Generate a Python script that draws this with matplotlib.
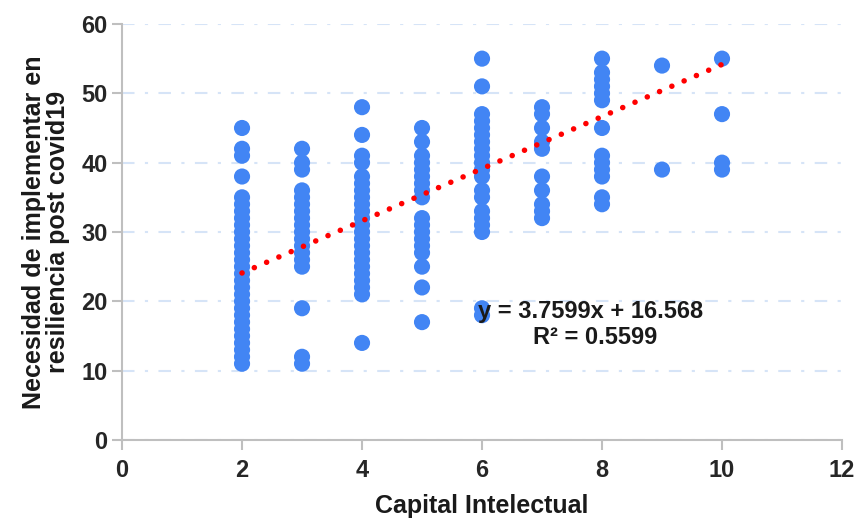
import numpy as np
import matplotlib.pyplot as plt

plt.rcParams['font.family'] = ['Liberation Sans', 'DejaVu Sans']

# Capital Intelectual score -> observed scores for each group
x2 = [45, 42, 41, 38] + list(range(35, 10, -1))
x3 = [42, 40, 39, 36, 35, 34, 33, 32, 31, 30, 29, 28, 27, 26, 25, 19, 12, 11]
x4 = [48, 44, 41, 40] + list(range(38, 20, -1)) + [14]
x5 = [45, 43, 41, 40, 39, 38, 37, 36, 35, 32, 31, 30, 29, 28, 27, 25, 22, 17]
x6 = [55, 51, 47, 46, 45, 44, 43, 42, 41, 40, 39, 38, 36, 35, 33, 32, 31, 30, 19, 18]
x7 = [48, 47, 45, 43, 42, 38, 36, 34, 33, 32]
x8 = [55, 53, 52, 51, 50, 49, 45, 41, 40, 39, 38, 35, 34]
x9 = [54, 39]
x10 = [55, 47, 40, 39]

groups = {2: x2, 3: x3, 4: x4, 5: x5, 6: x6, 7: x7, 8: x8, 9: x9, 10: x10}
xs = np.concatenate([[k] * len(v) for k, v in groups.items()])
ys = np.concatenate([v for v in groups.values()])

slope, intercept, r2 = 3.7599, 16.568, 0.5599

fig = plt.figure(figsize=(8.57, 5.18), dpi=100)
ax = fig.add_axes([0.1424, 0.1506, 0.8401, 0.8031])

ax.yaxis.grid(True, color='#d6e4f7', linewidth=1.5, linestyle=(0, (6, 5, 1.5, 5)))
ax.set_axisbelow(True)

ax.scatter(xs, ys, s=135, color='#4285f4', edgecolors='none', zorder=2)

# linear trend line
tx = np.array([2, 10])
ax.plot(tx, slope * tx + intercept, color='#ff0000', linewidth=4.0,
        linestyle=(0, (0.01, 2.4)), dash_capstyle='round', zorder=3)

ax.text(5.93, 18.6, f'y = {slope}x + {intercept}', fontsize=17, fontweight='bold',
        ha='left', va='center', color='#1a1a1a', zorder=4)
ax.text(7.88, 14.8, f'R² = {r2}', fontsize=17, fontweight='bold',
        ha='center', va='center', color='#1a1a1a', zorder=4)

ax.set_xlim(0, 12)
ax.set_ylim(0, 60)
ax.set_xticks(range(0, 13, 2))
ax.set_yticks(range(0, 61, 10))
for s in ['top', 'right']:
    ax.spines[s].set_visible(False)
for s in ['left', 'bottom']:
    ax.spines[s].set_color('#bfbfbf')
    ax.spines[s].set_linewidth(1.5)
ax.tick_params(direction='out', length=7, width=1.5, color='#bfbfbf',
               labelsize=17, labelcolor='#262626')
ax.tick_params(axis='x', pad=7)
for lbl in ax.get_xticklabels() + ax.get_yticklabels():
    lbl.set_fontweight('bold')

ax.set_xlabel('Capital Intelectual', fontsize=18, fontweight='bold', color='#1a1a1a', labelpad=8)
ax.set_ylabel('Necesidad de implementar en\nresiliencia post covid19', fontsize=18,
              fontweight='bold', color='#1a1a1a', labelpad=8, linespacing=1.0)

fig.savefig('out.png', dpi=100)
